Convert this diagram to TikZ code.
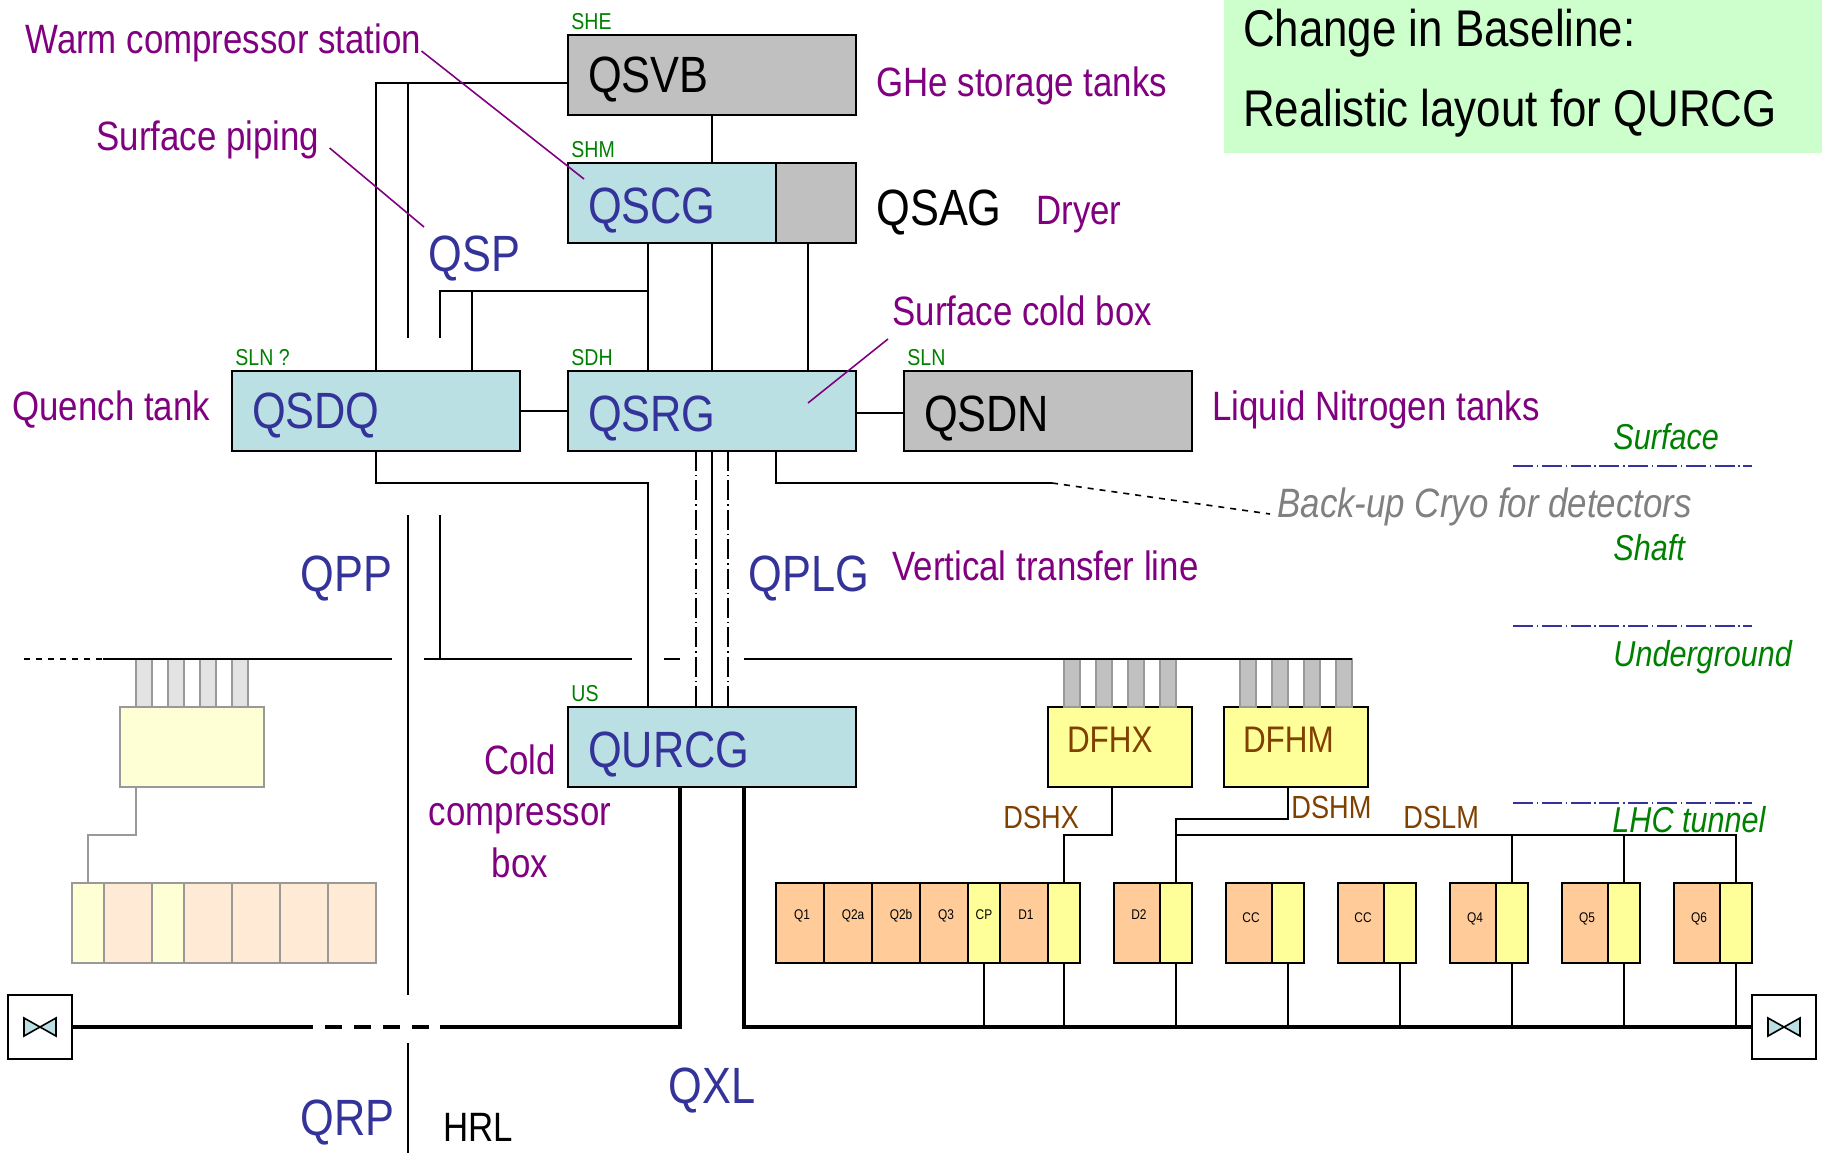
\documentclass[tikz,border=0pt]{standalone}
\usepackage{fontspec}
\setmainfont[FakeStretch=0.85]{Liberation Sans}
\usetikzlibrary{positioning}
\definecolor{Teal}{HTML}{BAE0E3}
\definecolor{Tank}{HTML}{C0C0C0}
\definecolor{Buff}{HTML}{FFFF99}
\definecolor{Peach}{HTML}{FFCC99}
\definecolor{PaleBuff}{HTML}{FFFFD6}
\definecolor{PalePeach}{HTML}{FFEAD6}
\definecolor{Mint}{HTML}{CCFFCC}
\definecolor{Navy}{HTML}{333399}
\definecolor{Plum}{HTML}{800080}
\definecolor{Leaf}{HTML}{008000}
\definecolor{Rust}{HTML}{804000}
\definecolor{Ghost}{HTML}{999999}
\begin{document}
\begin{tikzpicture}[x=0.5pt,y=-0.5pt,
 box/.style={draw=black,line width=1pt,anchor=north west,outer sep=0pt,inner ysep=0pt,inner xsep=10pt,minimum height=40pt,align=left,text height=20pt,text depth=0pt,font=\fontsize{25.5}{30}\selectfont},
 tealbox/.style={box,fill=Teal,text=Navy},
 tankbox/.style={box,fill=Tank,text=black},
 feedbox/.style={box,fill=Buff,text=Rust,minimum width=72pt,text width=53pt,inner xsep=9.5pt,text height=5pt,font=\fontsize{18.5}{22}\selectfont},
 ghostbox/.style={draw=Ghost,line width=1pt,fill=PaleBuff,anchor=north west,outer sep=0pt,minimum width=72pt,minimum height=40pt},
 tube/.style={draw=Ghost,line width=0.8pt,fill=Tank,anchor=north west,outer sep=0pt,inner sep=0pt,minimum width=8pt,minimum height=24pt},
 paletube/.style={tube,fill=black!11},
 mag/.style={draw=black,line width=1pt,anchor=north west,outer sep=0pt,inner sep=0pt,minimum height=40pt,text height=5pt,text depth=9pt,font=\fontsize{7}{8}\selectfont},
 magQ/.style={mag,fill=Peach,minimum width=24pt,execute at begin node=\hspace*{2pt}},
 magD/.style={mag,fill=Peach,minimum width=23pt,text depth=6pt,execute at begin node=\hspace*{2pt}},
 magC/.style={mag,fill=Buff,minimum width=16pt},
 ghostQ/.style={draw=Ghost,line width=1pt,fill=PalePeach,anchor=north west,outer sep=0pt,minimum width=24pt,minimum height=40pt},
 ghostC/.style={ghostQ,fill=PaleBuff,minimum width=16pt},
 valve/.style={draw=black,line width=1pt,fill=white,outer sep=0pt,minimum width=32pt,minimum height=32pt},
 bowtie/.style={draw=black,line width=0.8pt,fill=Teal},
 lbl/.style={anchor=base west,inner sep=0pt,font=\fontsize{20.5}{24}\selectfont},
 note/.style={lbl,text=Plum},
 code/.style={lbl,text=Navy,font=\fontsize{25.5}{30}\selectfont},
 tag/.style={lbl,text=Leaf,font=\fontsize{11.5}{14}\selectfont},
 zone/.style={lbl,text=Leaf,font=\fontsize{18}{22}\selectfont\itshape},
 rust/.style={lbl,text=Rust,font=\fontsize{16}{20}\selectfont},
 pipeline/.style={draw=black,line width=1pt},
 thick/.style={draw=black,line width=2.4pt},
 dashdot/.style={draw=black,line width=0.7pt,dash pattern=on 10pt off 2pt on 0.7pt off 2pt},
 level/.style={draw=Navy,line width=0.8pt,dash pattern=on 10pt off 1.9pt on 0.7pt off 1.8pt},
 leader/.style={draw=Plum,line width=0.8pt}]
 \useasboundingbox (0,0) rectangle (1822,1153);
 % boxes
 \node[anchor=north west,fill=Mint,outer sep=0pt,inner sep=0pt,minimum width=299pt,minimum height=76.5pt,text width=280pt,inner xsep=9.5pt,align=flush left,text height=18pt,text depth=48.5pt,font=\fontsize{25.8}{40}\selectfont](change) at (1224,0){Change in Baseline:\\Realistic layout for QURCG};
 \node[tankbox,minimum width=144pt,text width=124pt,text height=17.5pt](qsvb) at (568,35){QSVB};
 \node[tealbox,minimum width=104pt,text width=84pt](qscg) at (568,163){QSCG};
 \node[tankbox,right=0pt of qscg,minimum width=40pt](qscgdry){};
 \node[tealbox,minimum width=144pt,text width=124pt,text height=17.5pt](qsdq) at (232,371){QSDQ};
 \node[tealbox,minimum width=144pt,text width=124pt](qsrg) at (568,371){QSRG};
 \node[tankbox,minimum width=144pt,text width=124pt](qsdn) at (904,371){QSDN};
 \node[tealbox,minimum width=144pt,text width=124pt](qurcg) at (568,707){QURCG};
 \node[feedbox](dfhx) at (1048,707){DFHX};
 \node[feedbox](dfhm) at (1224,707){DFHM};
 \node[ghostbox](sparebox) at (120,707){};
 % tubes
 \node[paletube](pa) at (136,659){};\node[paletube](pb) at (168,659){};\node[paletube](pc) at (200,659){};\node[paletube](pd) at (232,659){};
 \node[tube](xa) at (1064,659){};\node[tube](xb) at (1096,659){};\node[tube](xc) at (1128,659){};\node[tube](xd) at (1160,659){};
 \node[tube](ma) at (1240,659){};\node[tube](mb) at (1272,659){};\node[tube](mc) at (1304,659){};\node[tube](md) at (1336,659){};
 % magnets
 \node[magQ](q1) at (776,883){Q1};
 \node[magQ,right=0pt of q1](q2a){\hspace*{3pt}Q2a};
 \node[magQ,right=0pt of q2a](q2b){\hspace*{3pt}Q2b};
 \node[magQ,right=0pt of q2b](q3){Q3};
 \node[magC,right=0pt of q3](cp){CP};
 \node[magQ,right=0pt of cp](d1){D1};
 \node[magC,right=0pt of d1](d1y){};
 \node[magD,text depth=9pt](d2) at (1114,883){D2};\node[magC,right=0pt of d2](d2y){};
 \node[magD](cca) at (1226,883){CC};\node[magC,right=0pt of cca](ccay){};
 \node[magD](ccb) at (1338,883){CC};\node[magC,right=0pt of ccb](ccby){};
 \node[magD](q4) at (1450,883){Q4};\node[magC,right=0pt of q4](q4y){};
 \node[magD](q5) at (1562,883){Q5};\node[magC,right=0pt of q5](q5y){};
 \node[magD](q6) at (1674,883){Q6};\node[magC,right=0pt of q6](q6y){};
 \node[ghostC](ga) at (72,883){};
 \node[ghostQ,right=0pt of ga](gb){};
 \node[ghostC,right=0pt of gb](gc){};
 \node[ghostQ,right=0pt of gc](gd){};
 \node[ghostQ,right=0pt of gd](ge){};
 \node[ghostQ,right=0pt of ge](gf){};
 \node[ghostQ,right=0pt of gf](gg){};
 \node[valve](valveL) at (40,1027){};
 \node[valve](valveR) at (1784,1027){};
 % texts
 \node[note](warm) at (25,53){Warm compressor station};
 \node[note](piping) at (96,150){Surface piping};
 \node[note](ghe) at (876,96){GHe storage tanks};
 \node[lbl,font=\fontsize{25.5}{30}\selectfont](qsag) at (876,225){QSAG};
 \node[note](dryer) at (1036,224){Dryer};
 \node[note](coldbox) at (892,325){Surface cold box};
 \node[note](quench) at (12,420){Quench tank};
 \node[note](ln2) at (1212,420){Liquid Nitrogen tanks};
 \node[note](vert) at (892,580){Vertical transfer line};
 \node[note,anchor=center,align=center,font=\fontsize{20.5}{25.75}\selectfont](cold) at (520,811){Cold\\compressor\\box};
 \node[lbl,text=black!50,font=\fontsize{20.5}{24}\selectfont\itshape](backup) at (1277,517){Back-up Cryo for detectors};
 \node[code](qsp) at (428,271){QSP};
 \node[code](qpp) at (300,591){QPP};
 \node[code](qplg) at (748,591){QPLG};
 \node[code](qxl) at (668,1103){QXL};
 \node[code](qrp) at (300,1135){QRP};
 \node[lbl](hrl) at (443,1141){HRL};
 \node[tag](she) at (571,29){SHE};
 \node[tag](shm) at (571,157){SHM};
 \node[tag](sln) at (235,365){SLN ?};
 \node[tag](sdh) at (571,365){SDH};
 \node[tag](slnb) at (907,365){SLN};
 \node[tag](us) at (571,701){US};
 \node[zone](surface) at (1613,449){Surface};
 \node[zone](shaft) at (1613,560){Shaft};
 \node[zone](under) at (1613,666){Underground};
 \node[zone](tunnel) at (1612,832){LHC tunnel};
 \node[rust](dshx) at (1003,828){DSHX};
 \node[rust](dshm) at (1291,818){DSHM};
 \node[rust](dslm) at (1403,828){DSLM};
 % free ends and bends
 \coordinate(stubA) at (408,338);\coordinate(stubB) at (440,338);\coordinate(stubC) at (408,515);\coordinate(stubD) at (440,515);
 \coordinate(busA) at (408,83);\coordinate(busB) at (648,291);\coordinate(busC) at (808,243);\coordinate(busD) at (472,291);
 \coordinate(bendQ) at (648,483);\coordinate(bendB) at (1052,483);\coordinate(backEnd) at (1270,514);
 \coordinate(ruleA) at (24,659);\coordinate(ruleB) at (103,659);\coordinate(ruleC) at (392,659);\coordinate(ruleD) at (424,659);\coordinate(ruleE) at (632,659);\coordinate(ruleF) at (664,659);\coordinate(ruleG) at (680,659);\coordinate(ruleH) at (744,659);\coordinate(ruleI) at (1352,659);
 \coordinate(gapA) at (408,995);\coordinate(gapB) at (408,1043);\coordinate(gapC) at (408,1153);
 \coordinate(railA) at (313,1027);\coordinate(railB) at (325,1027);\coordinate(railC) at (429,1027);\coordinate(railD) at (440,1027);\coordinate(railE) at (680,1027);\coordinate(railF) at (744,1027);
 \coordinate(chainA) at (696,0);\coordinate(chainB) at (728,0);
 \coordinate(dshxA) at (1112,835);\coordinate(dshmA) at (1288,819);\coordinate(dslmA) at (1176,835);\coordinate(spareA) at (136,835);
 \coordinate(levelA) at (1513,466);\coordinate(levelB) at (1752,466);\coordinate(levelC) at (1513,626);\coordinate(levelD) at (1752,626);\coordinate(levelE) at (1513,803);\coordinate(levelF) at (1752,803);
 \coordinate(leadWarm) at (584,179);\coordinate(leadCold) at (808,403);
 % piping
 \draw[pipeline]([yshift=-4pt]qsvb.west)-|(qsdq.north);
 \draw[pipeline](busA)--(stubA);
 \draw[pipeline](stubB)|-(busB);\draw[pipeline](busD)--(qsdq.north-|busD);
 \draw[pipeline](qscg.south-|busB)--(qsrg.north-|busB);
 \draw[pipeline](qsvb.south)--(qscg.north-|qsvb.south);
 \draw[pipeline](qscg.south-|qsvb.south)--(qsrg.north);
 \draw[pipeline](busC)--(qsrg.north-|busC);
 \draw[pipeline](qsdq)--(qsrg);
 \draw[pipeline]([yshift=-1pt]qsrg.east)--([yshift=-1pt]qsdn.west);
 \draw[pipeline](qsdq.south)|-(bendQ)--(qurcg.north-|bendQ);
 \draw[pipeline](qsrg.south)--(qurcg.north);
 \draw[dashdot](qsrg.south-|chainA)--(qurcg.north-|chainA);
 \draw[dashdot](qsrg.south-|chainB)--(qurcg.north-|chainB);
 \draw[pipeline](qsrg.south-|qscgdry.west)|-(bendB);
 \draw[draw=black,line width=0.8pt,dashed](bendB)--(backEnd);
 \draw[pipeline](stubC)--(gapA);\draw[pipeline](gapB)--(gapC);
 \draw[pipeline](stubD)--(stubD|-ruleD);
 \draw[pipeline,dashed](ruleA)--(ruleB);\draw[pipeline](ruleB)--(ruleC);\draw[pipeline](ruleD)--(ruleE);\draw[pipeline](ruleF)--(ruleG);\draw[pipeline](ruleH)--(ruleI);
 \draw[thick](valveL.east)--(railA);\draw[thick,dash pattern=on 8.5pt off 6pt](railB)--(railC);\draw[thick](railD)--(railE)--(qurcg.south-|railE);
 \draw[thick](qurcg.south-|railF)--(railF)--(valveR.west);
 \draw[pipeline](dfhx.south-|dshxA)--(dshxA)-|(d1y.north);
 \draw[pipeline](dfhm.south-|dshmA)--(dshmA)-|(d2y.north);
 \draw[pipeline](dslmA)-|(q6y.north);
 \draw[pipeline](q4y.north)--(q4y.north|-dslmA);\draw[pipeline](q5y.north)--(q5y.north|-dslmA);
 \draw[pipeline](cp.south)--(cp.south|-valveR.west);\draw[pipeline](d1y.south)--(d1y.south|-valveR.west);\draw[pipeline](d2y.south)--(d2y.south|-valveR.west);\draw[pipeline](ccay.south)--(ccay.south|-valveR.west);\draw[pipeline](ccby.south)--(ccby.south|-valveR.west);\draw[pipeline](q4y.south)--(q4y.south|-valveR.west);\draw[pipeline](q5y.south)--(q5y.south|-valveR.west);\draw[pipeline](q6y.south)--(q6y.south|-valveR.west);
 \draw[draw=Ghost,line width=1pt](sparebox.south-|spareA)--(spareA)-|(ga.north);
 \draw[level](levelA)--(levelB);\draw[level](levelC)--(levelD);\draw[level](levelE)--(levelF);
 \draw[leader]([yshift=1pt]warm.base east)--(leadWarm);
 \draw[leader]([shift={(5pt,1pt)}]piping.base east)--([shift={(-2pt,4pt)}]qsp.north west);
 \draw[leader]([shift={(-2pt,-7pt)}]coldbox.base west)--(leadCold);
 \draw[bowtie]([shift={(-8pt,4.5pt)}]valveL.center)--([shift={(8pt,-4.5pt)}]valveL.center)--([shift={(8pt,4.5pt)}]valveL.center)--([shift={(-8pt,-4.5pt)}]valveL.center)--cycle;
 \draw[bowtie]([shift={(-8pt,4.5pt)}]valveR.center)--([shift={(8pt,-4.5pt)}]valveR.center)--([shift={(8pt,4.5pt)}]valveR.center)--([shift={(-8pt,-4.5pt)}]valveR.center)--cycle;
\end{tikzpicture}
\end{document}
